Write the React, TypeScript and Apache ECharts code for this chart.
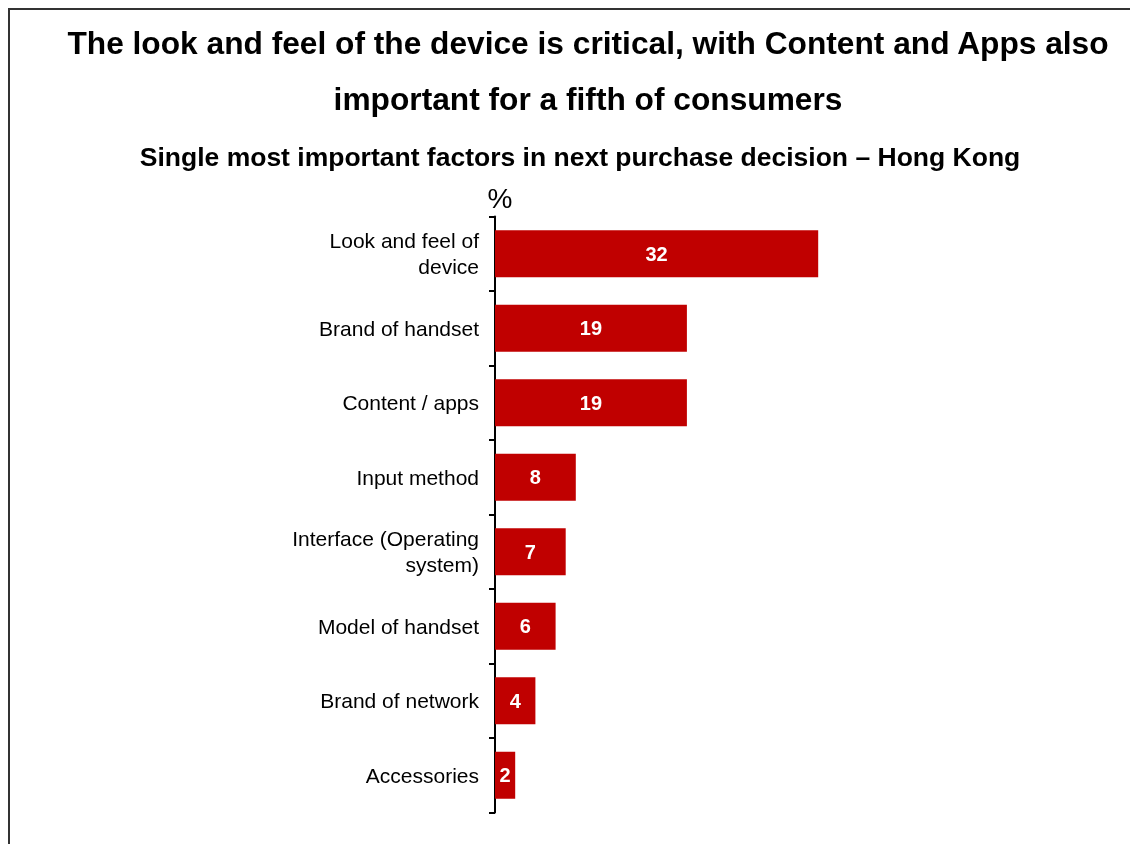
import React, { useEffect, useRef } from "react";
import * as echarts from "echarts";

const categories = [
  "Look and feel of\ndevice",
  "Brand of handset",
  "Content / apps",
  "Input method",
  "Interface (Operating\nsystem)",
  "Model of handset",
  "Brand of network",
  "Accessories",
];
const values = [32, 19, 19, 8, 7, 6, 4, 2];

const titleText =
  "The look and feel of the device is critical, with Content and Apps also\nimportant for a fifth of consumers";
const subtitleText =
  "Single most important factors in next purchase decision \u2013 Hong Kong";
const unitText = "%";

const FONT = "'Liberation Sans', Arial, Helvetica, sans-serif";

export default function App() {
  const ref = useRef<HTMLDivElement>(null);

  useEffect(() => {
    if (!ref.current) return;
    const chart = echarts.init(ref.current, null, { renderer: "svg" });
    chart.setOption({
      animation: false,
      title: [
        {
          text: titleText,
          left: 583,
          top: 10,
          textAlign: "center",
          textStyle: {
            fontFamily: FONT,
            fontSize: 31.7,
            fontWeight: "bold",
            color: "#000",
            lineHeight: 56,
          },
        },
        {
          text: subtitleText,
          left: 575,
          top: 136,
          textAlign: "center",
          textStyle: {
            fontFamily: FONT,
            fontSize: 26.5,
            fontWeight: "bold",
            color: "#000",
            lineHeight: 32,
          },
        },
      ],
      graphic: [
        {
          type: "text",
          x: 500,
          y: 198,
          style: {
            text: unitText,
            font: `28px ${FONT}`,
            fill: "#000",
            textAlign: "center",
            textVerticalAlign: "middle",
          },
        },
      ],
      grid: {
        left: 495,
        top: 216.5,
        width: 606,
        height: 596,
        containLabel: false,
      },
      xAxis: {
        type: "value",
        min: 0,
        max: 60,
        show: false,
      },
      yAxis: {
        type: "category",
        inverse: true,
        data: categories,
        axisLine: { show: true, lineStyle: { color: "#000", width: 2 } },
        axisTick: { show: true, length: 6, lineStyle: { color: "#000", width: 2 } },
        axisLabel: {
          margin: 16,
          fontFamily: FONT,
          fontSize: 21,
          lineHeight: 26,
          color: "#000",
        },
        splitLine: { show: false },
      },
      series: [
        {
          type: "bar",
          data: values,
          barWidth: 47,
          itemStyle: { color: "#C00000" },
          label: {
            show: true,
            position: "inside",
            color: "#fff",
            fontFamily: FONT,
            fontWeight: "bold",
            fontSize: 20,
          },
        },
      ],
    });
    return () => chart.dispose();
  }, []);

  return (
    <>
      <div
        style={{
          position: "fixed",
          left: 8,
          top: 8,
          width: 1300,
          height: 1000,
          border: "2px solid #333",
          boxSizing: "border-box",
        }}
      />
      <div
        ref={ref}
        style={{ position: "fixed", left: 0, top: 0, width: 1130, height: 844 }}
      />
    </>
  );
}
